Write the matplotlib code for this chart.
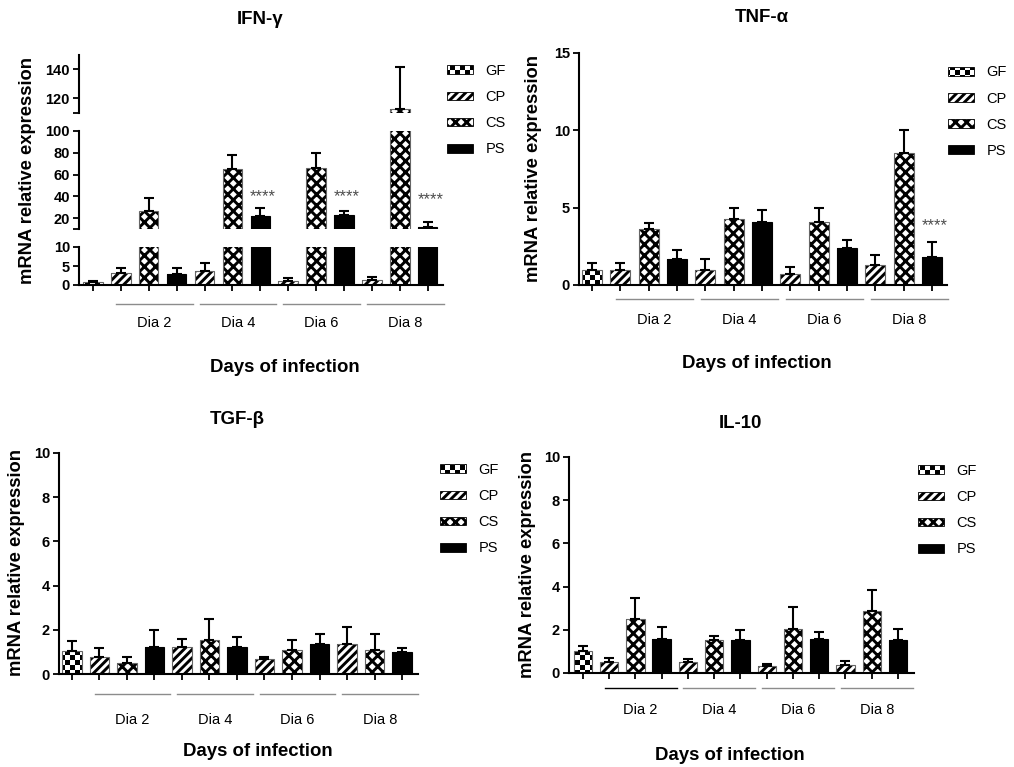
import numpy as np
import matplotlib
matplotlib.use("Agg")
import matplotlib.pyplot as plt
import matplotlib.hatch as mhatch
import matplotlib.transforms as mtransforms
from matplotlib.patches import Patch
from matplotlib.path import Path

W, H, DPI = 1014, 767, 100

plt.rcParams["font.family"] = ["Liberation Sans", "DejaVu Sans"]
plt.rcParams["font.weight"] = "bold"
plt.rcParams["hatch.linewidth"] = 2.1
plt.rcParams["axes.linewidth"] = 1.5

DAYS = ["Dia 2", "Dia 4", "Dia 6", "Dia 8"]
GROUPS = ["GF", "CP", "CS", "PS"]

# ---------- data: mean and SEM per group, one value per day ----------
# IFN-gamma
ifn_gf, ifn_gf_sem = 0.7, 0.45
ifn_cp = [3.2, 3.7, 1.05, 1.3]
ifn_cp_sem = [1.3, 2.2, 0.7, 0.7]
ifn_cs = [26.1, 65.2, 65.7, 113.0]
ifn_cs_sem = [12.7, 12.7, 14.0, 29.0]
ifn_ps = [3.0, 22.1, 22.7, 12.1]
ifn_ps_sem = [1.6, 7.3, 3.9, 4.0]
ifn_star_day = [1, 2, 3]
ifn_star_y = [44.5, 44.5, 42.0]

# TNF-alpha
tnf_gf, tnf_gf_sem = 1.0, 0.43
tnf_cp = [1.0, 0.94, 0.70, 1.27]
tnf_cp_sem = [0.43, 0.73, 0.44, 0.68]
tnf_cs = [3.6, 4.28, 4.1, 8.53]
tnf_cs_sem = [0.4, 0.7, 0.88, 1.47]
tnf_ps = [1.69, 4.06, 2.41, 1.78]
tnf_ps_sem = [0.57, 0.79, 0.48, 1.0]
tnf_star_day = [3]
tnf_star_y = [4.2]

# TGF-beta
tgf_gf, tgf_gf_sem = 1.06, 0.42
tgf_cp = [0.76, 1.21, 0.70, 1.35]
tgf_cp_sem = [0.42, 0.37, 0.09, 0.77]
tgf_cs = [0.50, 1.52, 1.08, 1.08]
tgf_cs_sem = [0.29, 0.95, 0.47, 0.72]
tgf_ps = [1.24, 1.23, 1.36, 0.98]
tgf_ps_sem = [0.76, 0.44, 0.47, 0.19]

# IL-10
il10_gf, il10_gf_sem = 1.03, 0.22
il10_cp = [0.51, 0.49, 0.31, 0.37]
il10_cp_sem = [0.20, 0.17, 0.12, 0.20]
il10_cs = [2.48, 1.51, 2.02, 2.85]
il10_cs_sem = [0.97, 0.21, 1.03, 1.00]
il10_ps = [1.57, 1.54, 1.57, 1.51]
il10_ps_sem = [0.57, 0.43, 0.35, 0.55]


# ---------- checkerboard hatch (stands in for the small-circle 'o') ----------
class CheckerHatch(mhatch.HatchPatternBase):
    def __init__(self, hatch, density):
        self.cells = hatch.count("o") * 20
        self.num_vertices = (self.cells * self.cells // 2) * 5

    def set_vertices_and_codes(self, vertices, codes):
        step = 1.0 / self.cells
        # hatch paths get stroked as well as filled, so shrink by half a line width
        half = step / 2 - plt.rcParams["hatch.linewidth"] / 144
        square = np.array([[-1, -1], [1, -1], [1, 1], [-1, 1], [-1, -1]]) * half
        k = 0
        for i in range(self.cells):
            for j in range(self.cells):
                if (i + j) % 2:
                    continue
                vertices[k:k + 5] = square + [(i + 0.5) * step, (j + 0.5) * step]
                codes[k:k + 5] = [Path.MOVETO, Path.LINETO, Path.LINETO,
                                  Path.LINETO, Path.CLOSEPOLY]
                k += 5


mhatch._hatch_types[mhatch._hatch_types.index(mhatch.SmallCircles)] = CheckerHatch

KINDS = ["GF"] + ["CP", "CS", "PS"] * len(DAYS)
HATCH = {"GF": "o", "CP": "////", "CS": "xxx", "PS": None}
FACE = {"GF": "white", "CP": "white", "CS": "white", "PS": "black"}


def panel_values(gf, cp, cs, ps):
    vals = [gf]
    for trio in zip(cp, cs, ps):
        vals.extend(trio)
    return np.array(vals, dtype=float)


def add_axes_px(fig, left, top, right, bottom):
    return fig.add_axes([left / W, 1 - bottom / H, (right - left) / W, (bottom - top) / H])


def draw_bars(ax, means, sems):
    x = np.arange(len(means))
    kinds = np.array(KINDS)
    for kind in GROUPS:
        sel = kinds == kind
        ax.bar(x[sel], means[sel], width=0.7, color=FACE[kind], edgecolor="black",
               linewidth=0, hatch=HATCH[kind])
        ax.bar(x[sel], means[sel], width=0.7, facecolor="none",
               edgecolor="black" if kind == "PS" else "0.4", linewidth=0.8)
    ax.errorbar(x, means, yerr=[np.zeros_like(sems), sems], fmt="none", ecolor="black",
                elinewidth=1.5, capsize=3.6, capthick=1.5)


def style_axis(ax, xlim, ylim, yticks, ylabels=None, bottom=True):
    for s in ("top", "right"):
        ax.spines[s].set_visible(False)
    ax.set_xlim(*xlim)
    ax.set_ylim(*ylim)
    ax.set_yticks(yticks)
    if ylabels is not None:
        ax.set_yticklabels(ylabels)
    ax.tick_params(axis="y", direction="out", length=4.5, width=1.3, labelsize=10.5, pad=2)
    if bottom:
        ax.set_xticks(np.arange(len(KINDS)))
        ax.set_xticklabels([])
        ax.tick_params(axis="x", direction="out", length=4.5, width=1.3)
    else:
        ax.spines["bottom"].set_visible(False)
        ax.set_xticks([])


def day_labels(ax, fig, line_dy, text_dy, line_colors=None):
    base = ax.get_xaxis_transform()
    line_tr = mtransforms.offset_copy(base, fig=fig, y=-line_dy, units="dots")
    text_tr = mtransforms.offset_copy(base, fig=fig, y=-text_dy, units="dots")
    if line_colors is None:
        line_colors = ["0.55"] * len(DAYS)
    for d, day in enumerate(DAYS):
        c = 2 + 3 * d + 0.2
        ax.plot([c - 1.37, c + 1.37], [0, 0], color=line_colors[d], lw=1.0,
                transform=line_tr, clip_on=False)
        ax.text(c, 0, day, transform=text_tr, ha="center", va="center",
                fontsize=10.5, fontweight="normal")


def add_stars(ax, days, ys):
    for d, y in zip(days, ys):
        ax.annotate("****", (3 * d + 3 + 0.1, y), xytext=(0, -7), textcoords="offset points",
                    ha="center", va="baseline", fontsize=12, fontweight="normal",
                    color="0.3", annotation_clip=False)


def add_legend(fig, x, y):
    handles = [Patch(facecolor=FACE[g], edgecolor="black", linewidth=0.6, hatch=HATCH[g])
               for g in GROUPS]
    fig.legend(handles, GROUPS, loc="upper left", bbox_to_anchor=(x / W, 1 - (y - 6) / H),
               bbox_transform=fig.transFigure, frameon=False, borderpad=0, borderaxespad=0,
               handlelength=1.75, handleheight=0.55, handletextpad=0.9, labelspacing=0.83,
               prop={"size": 10.5, "weight": "normal"})


def fig_text(fig, x, y, s, **kw):
    fig.text(x / W, 1 - y / H, s, ha="center", va="center", **kw)


fig = plt.figure(figsize=(W / DPI, H / DPI), dpi=DPI)

# ---------- IFN-gamma (broken y axis, three segments) ----------
ifn_m = panel_values(ifn_gf, ifn_cp, ifn_cs, ifn_ps)
ifn_s = panel_values(ifn_gf_sem, ifn_cp_sem, ifn_cs_sem, ifn_ps_sem)
ifn_xlim = (-0.5, 12.55)
ax_top = add_axes_px(fig, 79, 55, 443, 113)
ax_mid = add_axes_px(fig, 79, 131, 443, 229)
ax_low = add_axes_px(fig, 79, 247, 443, 285)
for ax in (ax_top, ax_mid, ax_low):
    draw_bars(ax, ifn_m, ifn_s)
style_axis(ax_top, ifn_xlim, (110, 150), [110, 120, 140], ["", "120", "140"], bottom=False)
style_axis(ax_mid, ifn_xlim, (10, 100), [10, 20, 40, 60, 80, 100],
           ["", "20", "40", "60", "80", "100"], bottom=False)
style_axis(ax_low, ifn_xlim, (0, 10), [0, 5, 10])
add_stars(ax_mid, ifn_star_day, ifn_star_y)
day_labels(ax_low, fig, 19, 38)
add_legend(fig, 447, 70)
fig_text(fig, 260, 20, "IFN-\u03b3", fontsize=13.4)
fig_text(fig, 285, 367, "Days of infection", fontsize=13.4)
fig_text(fig, 28, 170, "mRNA relative expression", fontsize=13.2, rotation=90)

# ---------- TNF-alpha ----------
ax = add_axes_px(fig, 579, 53, 947, 285)
draw_bars(ax, panel_values(tnf_gf, tnf_cp, tnf_cs, tnf_ps),
          panel_values(tnf_gf_sem, tnf_cp_sem, tnf_cs_sem, tnf_ps_sem))
style_axis(ax, (-0.46, 12.53), (0, 15), [0, 5, 10, 15])
add_stars(ax, tnf_star_day, tnf_star_y)
day_labels(ax, fig, 14, 35)
add_legend(fig, 948, 71.5)
fig_text(fig, 762, 18, "TNF-\u03b1", fontsize=13.4)
fig_text(fig, 757, 363, "Days of infection", fontsize=13.4)
fig_text(fig, 533, 169, "mRNA relative expression", fontsize=13.2, rotation=90)

# ---------- TGF-beta ----------
ax = add_axes_px(fig, 59, 453, 418, 674)
draw_bars(ax, panel_values(tgf_gf, tgf_cp, tgf_cs, tgf_ps),
          panel_values(tgf_gf_sem, tgf_cp_sem, tgf_cs_sem, tgf_ps_sem))
style_axis(ax, (-0.47, 12.58), (0, 10), [0, 2, 4, 6, 8, 10])
day_labels(ax, fig, 20, 46)
add_legend(fig, 440, 469)
fig_text(fig, 237, 420, "TGF-\u03b2", fontsize=13.4)
fig_text(fig, 258, 752, "Days of infection", fontsize=13.4)
fig_text(fig, 17, 563, "mRNA relative expression", fontsize=13.2, rotation=90)

# ---------- IL-10 ----------
ax = add_axes_px(fig, 569, 457, 914, 673)
draw_bars(ax, panel_values(il10_gf, il10_cp, il10_cs, il10_ps),
          panel_values(il10_gf_sem, il10_cp_sem, il10_cs_sem, il10_ps_sem))
style_axis(ax, (-0.53, 12.61), (0, 10), [0, 2, 4, 6, 8, 10])
day_labels(ax, fig, 15, 37, line_colors=["black", "0.55", "0.55", "0.55"])
add_legend(fig, 918, 470)
fig_text(fig, 740, 423, "IL-10", fontsize=13.4)
fig_text(fig, 730, 755, "Days of infection", fontsize=13.4)
fig_text(fig, 528, 564, "mRNA relative expression", fontsize=13.2, rotation=90)

fig.savefig("out.png", dpi=DPI)
